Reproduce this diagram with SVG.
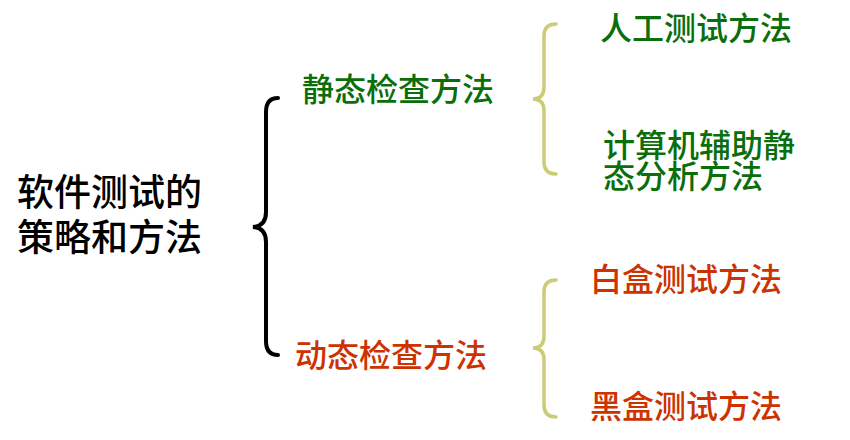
<svg xmlns="http://www.w3.org/2000/svg" width="850" height="440" viewBox="0 0 850 440">
<style>
text{font-family:"Noto Sans CJK SC","Noto Sans CJK JP",sans-serif;font-weight:500}
.g{fill:#0a6e0a;font-size:32px}
.r{fill:#cc3300;font-size:32px}
.k{fill:#000;font-size:37px}
.bb{fill:none;stroke:#000;stroke-width:4;stroke-linecap:round}
.sb{fill:none;stroke:#cccc77;stroke-width:3.5;stroke-linecap:round}
</style>
<rect width="850" height="440" fill="#fff"/>
<g id="connectors">
<path class="bb" d="M278,98 Q266,98 266,112 L266,212 Q266,226 253,227 Q266,228 266,242 L266,341 Q266,355 278,355"/>
<path class="sb" d="M556,24 Q544,24 544,36 L544,87 Q544,99 533,99 Q544,99 544,111 L544,162 Q544,174 556,174"/>
<path class="sb" d="M556,280 Q544,280 544,292 L544,336 Q544,348 533,348 Q544,348 544,360 L544,405 Q544,417 556,417"/>
</g>
<g id="root"><text class="k" x="17" y="206">软件测试的</text><text class="k" x="17" y="251">策略和方法</text></g>
<g id="static"><text class="g" x="302" y="101">静态检查方法</text></g>
<g id="dynamic"><text class="r" x="295" y="367">动态检查方法</text></g>
<g id="manual"><text class="g" x="600" y="40">人工测试方法</text></g>
<g id="computer"><text class="g" x="603" y="157">计算机辅助静</text><text class="g" x="603" y="188">态分析方法</text></g>
<g id="white"><text class="r" x="590" y="291">白盒测试方法</text></g>
<g id="black"><text class="r" x="590" y="418">黑盒测试方法</text></g>
</svg>
